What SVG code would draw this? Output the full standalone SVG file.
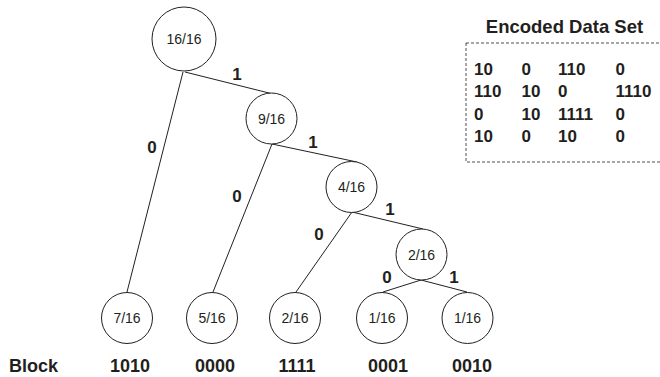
<svg xmlns="http://www.w3.org/2000/svg" width="660" height="377" viewBox="0 0 660 377">
<style>
.n circle{fill:#fff;stroke:#231f20;stroke-width:1}
.n text{font-family:"Liberation Sans",Arial,sans-serif;font-size:14px;fill:#231f20;text-anchor:middle}
.e line{stroke:#231f20;stroke-width:1}
.lb{font-family:"Liberation Sans",Arial,sans-serif;font-size:17px;font-weight:bold;fill:#231f20;text-anchor:middle}
.bk{font-family:"Liberation Sans",Arial,sans-serif;font-size:18px;font-weight:bold;fill:#231f20;text-anchor:middle}
.ds{font-family:"Liberation Sans",Arial,sans-serif;font-size:17px;font-weight:bold;fill:#231f20}
</style>
<rect width="660" height="377" fill="#fff"/>
<g id="connectors" class="e">
<line x1="185" y1="72" x2="273" y2="94"/>
<line x1="183" y1="72" x2="127" y2="292"/>
<line x1="272" y1="144" x2="357" y2="162"/>
<line x1="272" y1="144" x2="213" y2="292"/>
<line x1="352" y1="212" x2="423" y2="229"/>
<line x1="352" y1="212" x2="296" y2="292"/>
<line x1="421" y1="280" x2="383" y2="292"/>
<line x1="421" y1="280" x2="467" y2="292"/>
</g>
<g id="edge-labels">
<text class="lb" x="237" y="80">1</text>
<text class="lb" x="152" y="153">0</text>
<text class="lb" x="313" y="148">1</text>
<text class="lb" x="237" y="202">0</text>
<text class="lb" x="390" y="215">1</text>
<text class="lb" x="319" y="240">0</text>
<text class="lb" x="387" y="283">0</text>
<text class="lb" x="454" y="283">1</text>
</g>
<g id="n-root" class="n"><circle cx="184" cy="39" r="32"/><text x="184" y="44">16/16</text></g>
<g id="n-9" class="n"><circle cx="271.5" cy="118.5" r="25.5"/><text x="271.5" y="123.5">9/16</text></g>
<g id="n-4" class="n"><circle cx="351.5" cy="187" r="25.5"/><text x="351.5" y="192">4/16</text></g>
<g id="n-2a" class="n"><circle cx="421.5" cy="254.5" r="25.5"/><text x="421.5" y="259.5">2/16</text></g>
<g id="n-7" class="n"><circle cx="127" cy="318" r="25.5"/><text x="127" y="323">7/16</text></g>
<g id="n-5" class="n"><circle cx="212" cy="318" r="25.5"/><text x="212" y="323">5/16</text></g>
<g id="n-2b" class="n"><circle cx="295" cy="318" r="25.5"/><text x="295" y="323">2/16</text></g>
<g id="n-1a" class="n"><circle cx="382" cy="318" r="25.5"/><text x="382" y="323">1/16</text></g>
<g id="n-1b" class="n"><circle cx="467.5" cy="318" r="25.5"/><text x="467.5" y="323">1/16</text></g>
<g id="blocks">
<text class="bk" x="9" y="372" style="text-anchor:start">Block</text>
<text class="bk" x="130" y="372">1010</text>
<text class="bk" x="215" y="372">0000</text>
<text class="bk" x="297" y="372">1111</text>
<text class="bk" x="388" y="372">0001</text>
<text class="bk" x="472" y="372">0010</text>
</g>
<g id="encoded-data-set">
<text class="bk" x="564.5" y="33" style="font-size:18.5px">Encoded Data Set</text>
<rect x="466" y="43" width="200" height="119" fill="none" stroke="#231f20" stroke-width="0.8" stroke-dasharray="3,2"/>
<text class="ds" y="75"><tspan x="474">10</tspan><tspan x="521.5">0</tspan><tspan x="558">110</tspan><tspan x="615.5">0</tspan></text>
<text class="ds" y="97"><tspan x="474">110</tspan><tspan x="521.5">10</tspan><tspan x="558">0</tspan><tspan x="615.5">1110</tspan></text>
<text class="ds" y="119.5"><tspan x="474">0</tspan><tspan x="521.5">10</tspan><tspan x="558">1111</tspan><tspan x="615.5">0</tspan></text>
<text class="ds" y="142"><tspan x="474">10</tspan><tspan x="521.5">0</tspan><tspan x="558">10</tspan><tspan x="615.5">0</tspan></text>
</g>
</svg>
